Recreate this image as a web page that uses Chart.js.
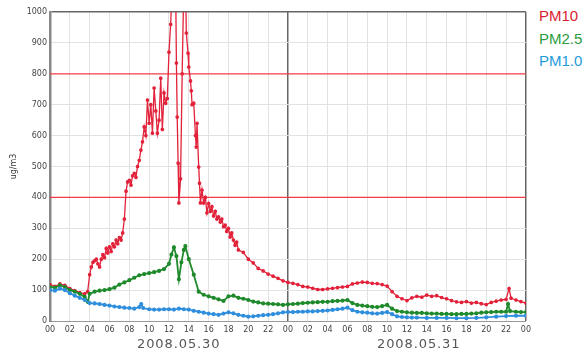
<!DOCTYPE html>
<html lang="en">
<head>
  <meta charset="UTF-8">
  <title>PM concentration</title>
  <script src="https://cdn.jsdelivr.net/npm/chart.js"></script>
  <style>
    body { margin: 0; background: #fff; width: 588px; height: 356px; position: relative; overflow: hidden; }
    .chart-box { position: absolute; left: 0; top: 0; width: 535px; height: 340px; }
    .legend { position: absolute; left: 539px; font-family: "Liberation Sans Narrow", "Liberation Sans", sans-serif; font-size: 15px; line-height: 15px; }
    .date { position: absolute; top: 336px; font-family: "DejaVu Sans", sans-serif; font-size: 13px; color: #555; letter-spacing: 0.9px; }
  </style>
</head>
<body>
  <div class="chart-box"><canvas id="pmChart"></canvas></div>
  <div class="legend" style="top:8px;color:#d9202e">PM10</div>
  <div class="legend" style="top:31px;color:#2a9c3e">PM2.5</div>
  <div class="legend" style="top:53px;color:#1e9bd9">PM1.0</div>
  <div class="date" style="left:137px">2008.05.30</div>
  <div class="date" style="left:377px">2008.05.31</div>
  <script>
    // hours counted from 2008.05.30 00:00
    const pm10Hours = [0, 0.5, 1, 1.5, 2, 2.5, 3, 3.5, 3.8,
      4, 4.17, 4.33, 4.5, 4.67, 4.83, 5, 5.17, 5.33, 5.5, 5.67, 5.83, 6, 6.17, 6.33, 6.5, 6.67, 6.83, 7, 7.17, 7.33, 7.5, 7.67, 7.83,
      8, 8.17, 8.33, 8.5, 8.67, 8.83, 9, 9.17, 9.33, 9.5, 9.67, 9.83, 10, 10.17, 10.33, 10.5, 10.67, 10.83, 11, 11.17, 11.33, 11.5, 11.67, 11.83,
      12, 12.17, 12.33, 12.5, 12.67, 12.75, 12.83, 12.92, 13, 13.17, 13.33, 13.5, 13.67, 13.75, 13.92, 14, 14.17, 14.25, 14.33, 14.5, 14.67, 14.75, 14.83,
      15, 15.08, 15.17, 15.33, 15.5, 15.67, 15.83, 16, 16.17, 16.33, 16.5, 16.67, 16.83, 17, 17.17, 17.33, 17.5, 17.67, 17.83, 18, 18.17, 18.33, 18.5, 18.67, 18.83,
      19, 19.5, 20, 20.5, 21, 21.5, 22, 22.5, 23, 23.5, 24, 24.5, 25, 25.5, 26, 26.5, 27, 27.5, 28, 28.5, 29, 29.5, 30, 30.5, 31, 31.5, 32, 32.5, 33, 33.5,
      34, 34.5, 35, 35.5, 36, 36.5, 37, 37.5, 38, 38.5, 39, 39.5, 40, 40.5, 41, 41.5, 42, 42.5, 43, 43.5, 44, 44.5, 45, 45.5, 46, 46.3, 46.5, 47, 47.5, 48];
    const pm10Values = [118, 112, 120, 115, 105, 98, 92, 88, 95,
      150, 175, 190, 195, 200, 185, 175, 200, 215, 205, 235, 220, 240, 225, 250, 240, 262, 250, 270, 262, 285, 330, 420, 450,
      455, 440, 470, 478, 465, 500, 520, 553, 580, 628, 600, 715, 640, 700, 608, 754, 680, 608, 650, 786, 620, 738, 705, 720,
      870, 960, 1100, 1100, 1100, 835, 660, 511, 382, 460, 800, 1100, 1100, 932, 867, 822, 777, 745, 700, 705, 600, 563, 640,
      498, 446, 382, 424, 382, 400, 350, 380, 355, 370, 340, 355, 330, 337, 320, 330, 305, 310, 290, 300, 272, 285, 262, 245, 255,
      230, 222, 200, 188, 170, 162, 152, 145, 138, 130, 125, 122, 118, 112, 110, 106, 102, 102, 104, 106, 108, 110, 112, 120, 123, 126, 125, 122, 121, 118,
      113, 95, 80, 72, 66, 75, 80, 77, 84, 80, 82, 76, 72, 66, 62, 60, 63, 58, 60, 56, 53, 60, 64, 68, 70, 105, 74, 68, 63, 58];

    const pm25Hours = [0, 0.5, 1, 1.5, 2, 2.5, 3, 3.5, 3.8, 4, 4.5, 5, 5.5, 6, 6.5, 7, 7.5, 8, 8.5, 9, 9.5, 10, 10.5, 11, 11.5, 12, 12.25, 12.5, 12.75, 13, 13.25, 13.5, 13.65, 14, 14.5, 15, 15.5, 16, 16.5, 17, 17.5, 18, 18.5, 19, 19.5, 20, 20.5, 21, 21.5, 22, 22.5, 23, 23.5, 24, 24.5, 25, 25.5, 26, 26.5, 27, 27.5, 28, 28.5, 29, 29.5, 30, 30.5, 31, 31.5, 32, 32.5, 33, 33.5, 34, 34.5, 35, 35.5, 36, 36.5, 37, 37.5, 38, 38.5, 39, 39.5, 40, 40.5, 41, 41.5, 42, 42.5, 43, 43.5, 44, 44.5, 45, 45.5, 46, 46.2, 46.4, 47, 47.5, 48];
    const pm25Values = [110, 108, 115, 110, 100, 95, 88, 78, 62, 88, 95, 98, 100, 103, 108, 118, 125, 132, 140, 148, 152, 155, 158, 162, 168, 185, 215, 238, 210, 135, 190, 230, 242, 200, 150, 95, 85, 80, 75, 70, 65, 80, 82, 75, 72, 68, 63, 60, 57, 56, 55, 54, 52, 54, 55, 56, 58, 59, 60, 61, 62, 62, 64, 65, 66, 68, 58, 52, 50, 48, 46, 45, 48, 52, 40, 32, 30, 28, 27, 26, 26, 25, 24, 24, 23, 23, 22, 22, 23, 23, 24, 25, 27, 28, 29, 30, 30, 30, 55, 32, 30, 29, 29];

    const pm1Hours = [0, 0.5, 1, 1.5, 2, 2.5, 3, 3.5, 4, 4.5, 5, 5.5, 6, 6.5, 7, 7.5, 8, 8.5, 9, 9.2, 9.4, 10, 10.5, 11, 11.5, 12, 12.5, 13, 13.5, 14, 14.5, 15, 15.5, 16, 16.5, 17, 17.5, 18, 18.5, 19, 19.5, 20, 20.5, 21, 21.5, 22, 22.5, 23, 23.5, 24, 24.5, 25, 25.5, 26, 26.5, 27, 27.5, 28, 28.5, 29, 29.5, 30, 30.5, 31, 31.5, 32, 32.5, 33, 33.5, 34, 34.5, 35, 35.5, 36, 36.5, 37, 38, 39, 40, 41, 42, 43, 44, 45, 46, 47, 48];
    const pm1Values = [100, 98, 105, 100, 90, 82, 75, 68, 58, 57, 55, 52, 50, 47, 45, 43, 42, 40, 45, 55, 42, 38, 37, 37, 38, 38, 37, 40, 38, 37, 33, 30, 27, 24, 22, 20, 24, 28, 25, 20, 17, 14, 15, 17, 19, 20, 22, 25, 28, 29, 29, 30, 30, 31, 31, 32, 33, 34, 36, 38, 40, 43, 35, 30, 28, 27, 25, 24, 26, 29, 22, 15, 13, 12, 11, 11, 10, 10, 10, 9, 9, 10, 12, 14, 16, 17, 17];

    const yTicks = [0, 100, 200, 300, 400, 500, 600, 700, 800, 900, 1000];
    const limitLines = [400, 800];

    function toPoints(hours, values) {
      return hours.map((h, i) => ({ x: h, y: values[i] }));
    }

    function series(label, hours, values, color, width) {
      return {
        label: label,
        data: toPoints(hours, values),
        borderColor: color,
        backgroundColor: color,
        borderWidth: width,
        pointRadius: 1.2,
        pointHoverRadius: 0,
        tension: 0
      };
    }

    // red limit lines drawn on the y scale
    const limitLinePlugin = {
      id: 'limitLines',
      beforeDatasetsDraw(chart) {
        const { ctx, chartArea, scales } = chart;
        ctx.save();
        ctx.globalAlpha = 1;
        ctx.setLineDash([]);
        ctx.strokeStyle = 'rgb(244, 60, 70)';
        ctx.lineWidth = 1.3;
        for (const v of limitLines) {
          const py = scales.y.getPixelForValue(v);
          ctx.beginPath();
          ctx.moveTo(chartArea.left, py);
          ctx.lineTo(chartArea.right, py);
          ctx.stroke();
        }
        ctx.restore();
      }
    };

    const tickFont = { family: 'DejaVu Sans', size: 8 };

    new Chart(document.getElementById('pmChart'), {
      type: 'line',
      data: {
        datasets: [
          series('PM1.0', pm1Hours, pm1Values, '#2f8fdc', 1.8),
          series('PM2.5', pm25Hours, pm25Values, '#1f8a2c', 1.8),
          series('PM10', pm10Hours, pm10Values, '#e2223a', 1.3)
        ]
      },
      plugins: [limitLinePlugin],
      options: {
        responsive: true,
        maintainAspectRatio: false,
        animation: false,
        layout: { padding: { top: 12, right: 5, left: 0, bottom: 0 } },
        plugins: { legend: { display: false }, tooltip: { enabled: false } },
        scales: {
          x: {
            type: 'linear',
            min: 0,
            max: 48,
            afterFit: s => { s.height = 19; },
            ticks: {
              stepSize: 2,
              autoSkip: false,
              maxRotation: 0,
              padding: 4,
              color: '#444',
              font: tickFont,
              callback: v => String(v % 24).padStart(2, '0')
            },
            grid: {
              drawTicks: false,
              lineWidth: ctx => (ctx.tick && (ctx.tick.value === 24 || ctx.tick.value === 48)) ? 1.5 : 1,
              color: ctx => (ctx.tick && (ctx.tick.value === 24 || ctx.tick.value === 48)) ? '#666' : '#e2e2e2'
            },
            border: { color: '#999', width: 1 }
          },
          y: {
            min: 0,
            max: 1000,
            afterFit: s => { s.width = 50; },
            afterBuildTicks: s => { s.ticks = yTicks.map(v => ({ value: v })); },
            title: { display: true, text: 'ug/m3', color: '#333', font: { family: 'DejaVu Sans', size: 8 }, padding: { top: 9, bottom: 0 } },
            ticks: { color: '#444', font: tickFont, padding: 3, callback: v => String(v) },
            grid: {
              drawTicks: false,
              lineWidth: ctx => (ctx.tick && ctx.tick.value === 1000) ? 1.5 : 1,
              color: ctx => {
                if (!ctx.tick) return '#e2e2e2';
                if (ctx.tick.value === 1000) return '#666';
                if (limitLines.includes(ctx.tick.value)) return 'rgba(0,0,0,0)';
                return '#e2e2e2';
              }
            },
            border: { color: '#888', width: 2.5 }
          }
        }
      }
    });
  </script>
</body>
</html>
